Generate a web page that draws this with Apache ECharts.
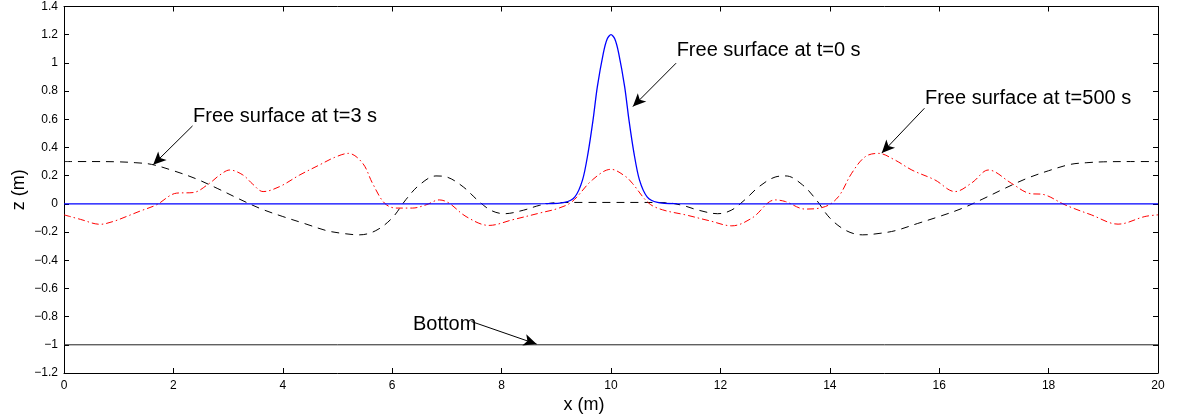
<!DOCTYPE html>
<html><head><meta charset="utf-8">
<script src="https://cdn.jsdelivr.net/npm/echarts@6/dist/echarts.min.js"></script>
<style>html,body{margin:0;padding:0;background:#fff}#c{width:1180px;height:416px}</style>
</head><body><div id="c"></div>
<script>
// Free surface at t=0 s (solitary hump)
const xT0 = [0, 4, 8, 8.8, 9.15, 9.34, 9.48, 9.58, 9.67, 9.75, 9.86, 9.93, 10.0, 10.07, 10.14, 10.25, 10.33, 10.42, 10.52, 10.66, 10.85, 11.2, 12, 16, 20];
const zT0 = [0, 0, 0, 0.001, 0.01, 0.05, 0.17, 0.36, 0.59, 0.83, 1.07, 1.17, 1.2, 1.17, 1.07, 0.83, 0.59, 0.36, 0.17, 0.05, 0.01, 0.001, 0, 0, 0];
// Free surface at t=3 s
const xT3 = [0, 0.5, 1.0, 1.3, 1.6, 2.0, 2.4, 2.8, 3.2, 3.6, 4.0, 4.4, 4.8, 5.1, 5.4, 5.7, 6.0, 6.25, 6.5, 6.8, 7.0, 7.3, 7.55, 7.8, 8.05, 8.4, 8.7, 9.0, 9.5, 10, 10.5, 11, 11.3, 11.6, 11.95, 12.2, 12.45, 12.7, 13.0, 13.2, 13.5, 13.75, 14.0, 14.3, 14.6, 14.9, 15.2, 15.6, 16.0, 16.4, 16.8, 17.2, 17.6, 18.0, 18.4, 18.7, 19.0, 19.5, 20];
const zT3 = [0.30, 0.30, 0.298, 0.292, 0.28, 0.235, 0.18, 0.11, 0.035, -0.035, -0.09, -0.14, -0.19, -0.21, -0.22, -0.19, -0.10, 0.03, 0.135, 0.198, 0.19, 0.12, 0.03, -0.045, -0.07, -0.045, -0.01, 0.008, 0.01, 0.01, 0.01, 0.008, -0.01, -0.045, -0.07, -0.045, 0.03, 0.12, 0.19, 0.198, 0.135, 0.03, -0.10, -0.19, -0.22, -0.21, -0.19, -0.14, -0.09, -0.035, 0.035, 0.11, 0.18, 0.235, 0.28, 0.292, 0.298, 0.30, 0.30];
// Free surface at t=500 s
const xT500 = [0, 0.3, 0.66, 0.9, 1.14, 1.4, 1.69, 2.06, 2.36, 2.66, 2.85, 3.03, 3.27, 3.45, 3.64, 3.94, 4.31, 4.67, 4.95, 5.2, 5.46, 5.64, 5.86, 6.07, 6.37, 6.62, 6.86, 7.04, 7.35, 7.77, 8.2, 8.69, 9.05, 9.29, 9.66, 10.0, 10.27, 10.39, 10.69, 10.94, 11.36, 11.8, 12.21, 12.58, 13.0, 13.19, 13.55, 13.92, 14.16, 14.4, 14.65, 14.89, 15.19, 15.5, 15.92, 16.29, 16.6, 16.9, 17.32, 17.63, 17.93, 18.3, 18.78, 19.27, 19.76, 20];
const zT500 = [-0.078, -0.11, -0.145, -0.125, -0.09, -0.05, -0.007, 0.076, 0.08, 0.146, 0.205, 0.24, 0.205, 0.14, 0.087, 0.122, 0.205, 0.276, 0.33, 0.358, 0.288, 0.146, 0.005, -0.03, -0.03, -0.007, 0.028, 0.005, -0.09, -0.153, -0.113, -0.066, -0.03, 0.016, 0.17, 0.245, 0.193, 0.146, 0.005, -0.042, -0.078, -0.12, -0.156, -0.1, 0.028, 0.016, -0.037, -0.019, 0.052, 0.217, 0.335, 0.358, 0.311, 0.24, 0.17, 0.087, 0.15, 0.24, 0.146, 0.076, 0.064, -0.007, -0.078, -0.144, -0.09, -0.078];
// Bottom
const xBottom = [0, 20];
const zBottom = [-1, -1];
// Annotations
const annotText = ['Free surface at t=3 s', 'Free surface at t=0 s', 'Free surface at t=500 s', 'Bottom'];
const annotTextAt = [[2.36, 0.617], [11.2, 1.085], [15.74, 0.75], [6.38, -0.858]];
const arrowFrom = [[2.35, 0.553], [11.19, 0.998], [15.73, 0.678], [7.45, -0.835]];
const arrowTo = [[1.63, 0.277], [10.40, 0.69], [14.95, 0.36], [8.64, -0.995]];

const pairs = (xs, zs) => xs.map((x, i) => [x, zs[i]]);
const FONT = 'Liberation Sans, Arial, Helvetica, sans-serif';
const fmt = v => String(Math.round(v * 10) / 10).replace('-', '\u2212');

const chart = echarts.init(document.getElementById('c'), null, {renderer: 'canvas'});
const tickCommon = {show: true, inside: true, length: 5, lineStyle: {color: '#000', width: 1}};
const lineCommon = {show: true, onZero: false, lineStyle: {color: '#000', width: 1}};
chart.setOption({
  animation: false,
  backgroundColor: '#fff',
  grid: {left: 64, right: 22, top: 6.5, bottom: 43, containLabel: false, outerBoundsMode: 'none'},
  xAxis: [
    {type: 'value', min: 0, max: 20, interval: 2, position: 'bottom',
     axisLine: lineCommon, axisTick: tickCommon, splitLine: {show: false},
     axisLabel: {color: '#000', fontFamily: FONT, fontSize: 12, margin: 7, formatter: fmt},
     name: 'x (m)', nameLocation: 'middle', nameGap: 23, nameMoveOverlap: false,
     nameTextStyle: {color: '#000', fontFamily: FONT, fontSize: 18, padding: [0, 54, 0, 0]}},
    {type: 'value', min: 0, max: 20, interval: 2, position: 'top',
     axisLine: lineCommon, axisTick: tickCommon, splitLine: {show: false},
     axisLabel: {show: false}}
  ],
  yAxis: [
    {type: 'value', min: -1.2, max: 1.4, interval: 0.2, position: 'left',
     axisLine: lineCommon, axisTick: tickCommon, splitLine: {show: false},
     axisLabel: {color: '#000', fontFamily: FONT, fontSize: 12, margin: 6, formatter: fmt},
     name: 'z (m)', nameLocation: 'middle', nameGap: 36, nameRotate: 90, nameMoveOverlap: false,
     nameTextStyle: {color: '#000', fontFamily: FONT, fontSize: 18}},
    {type: 'value', min: -1.2, max: 1.4, interval: 0.2, position: 'right',
     axisLine: lineCommon, axisTick: tickCommon, splitLine: {show: false},
     axisLabel: {show: false}}
  ],
  series: [
    {type: 'line', name: 'Bottom', data: pairs(xBottom, zBottom), showSymbol: false, symbol: 'none',
     lineStyle: {color: '#222', width: 1}, silent: true,
     markLine: {silent: true, symbol: ['none', 'arrow'], symbolSize: [9, 13],
       lineStyle: {color: '#000', width: 1, type: 'solid'}, label: {show: false},
       data: arrowFrom.map((p, i) => [{coord: p}, {coord: arrowTo[i]}])},
     markPoint: {silent: true, symbol: 'circle', symbolSize: 0.01,
       label: {show: true, position: 'right', distance: 0, color: '#000', fontFamily: FONT, fontSize: 20,
               formatter: p => p.name},
       data: annotText.map((t, i) => ({name: t, coord: annotTextAt[i]}))}},
    {type: 'line', name: 't=3', data: pairs(xT3, zT3), showSymbol: false, symbol: 'none', smooth: 0.35,
     lineStyle: {color: '#000', width: 1, type: [8, 6]}},
    {type: 'line', name: 't=500', data: pairs(xT500, zT500), showSymbol: false, symbol: 'none', smooth: 0.35,
     lineStyle: {color: '#ff0000', width: 1, type: [7, 3, 1.5, 3]}},
    {type: 'line', name: 't=0', data: pairs(xT0, zT0), showSymbol: false, symbol: 'none', smooth: 0.3,
     lineStyle: {color: '#0000ff', width: 1.3}}
  ]
});
</script></body></html>
